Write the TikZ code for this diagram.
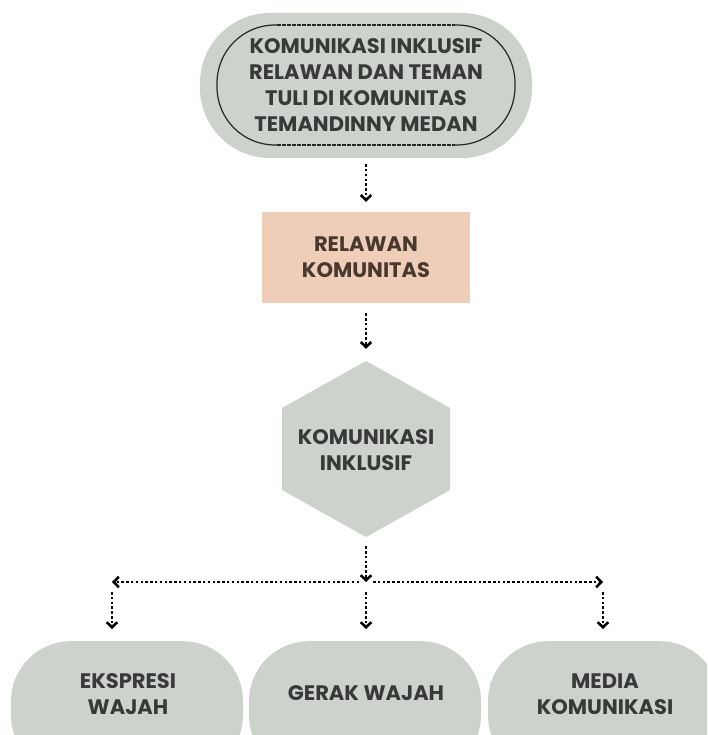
\documentclass[tikz,border=0pt]{standalone}
\usepackage{fontspec}
\setmainfont{Poppins}
\usetikzlibrary{arrows.meta}
\definecolor{sage}{RGB}{205,211,204}
\definecolor{peach}{RGB}{238,206,184}
\definecolor{ink}{RGB}{55,58,55}
\definecolor{brownink}{RGB}{72,56,45}
\begin{document}
\begin{tikzpicture}[x=1pt,y=-1pt,
  lbl/.style={font=\bfseries\fontsize{21}{26}\selectfont, text=ink, align=center, inner sep=0pt},
  conn/.style={line width=2.7pt, dash pattern=on 2.5pt off 2.3pt, -{Straight Barb[length=5pt,width=10.5pt,line width=2.6pt]}},
  bot/.style={fill=sage, rounded corners=60pt, minimum width=232pt, minimum height=134pt, inner sep=0pt, anchor=north},
  outline/.style={line width=1.2pt, draw=black!85},
]
\useasboundingbox (0,0) rectangle (707,735);
\clip (0,0) rectangle (707,735);
\fill[white] (0,0) rectangle (707,735);
% top rounded box
\node[fill=sage, rounded corners=70pt, minimum width=332pt, minimum height=145pt, lbl] (top) at (366,85.5)
  {KOMUNIKASI INKLUSIF\\RELAWAN DAN TEMAN\\TULI DI KOMUNITAS\\TEMANDINNY MEDAN};
\draw[outline, rounded corners=58pt] (277,25) -- (217,25) -- (217,145) -- (277,145);
\draw[outline, rounded corners=58pt] (455,25) -- (515,25) -- (515,145) -- (455,145);
\draw[outline, dash pattern=on 3.5pt off 1.5pt] (277,25) -- (455,25);
\draw[outline, dash pattern=on 3.5pt off 1.5pt] (277,145) -- (455,145);
% relawan box
\node[fill=peach, minimum width=208pt, minimum height=91pt, lbl, text=brownink] (rel) at (366,257.5) {RELAWAN\\KOMUNITAS};
% hexagon
\fill[sage] (366,361) -- (450,408) -- (450,490) -- (366,537) -- (282,490) -- (282,408) -- cycle;
\node[lbl, minimum width=168pt, minimum height=176pt] (hex) at (366,450) {KOMUNIKASI\\INKLUSIF};
% bottom shapes
\node[bot] (b1) at (127,641) {};
\node[bot] (b2) at (365,641) {};
\node[bot] (b3) at (604,641) {};
\node[lbl] (t1) at (128,694) {EKSPRESI\\WAJAH};
\node[lbl] (t2) at (366,693) {GERAK WAJAH};
\node[lbl] (t3) at (605,694) {MEDIA\\KOMUNIKASI};
% connectors
\coordinate (J) at (366,582);
\coordinate (L) at (112,582);
\coordinate (R) at (603,582);
\draw[conn, shorten <=6pt, shorten >=10pt] (top) -- (rel);
\draw[conn, shorten <=10pt, shorten >=13pt] (rel) -- (hex);
\draw[conn, shorten <=8pt] (hex) -- (J);
\draw[conn, shorten <=7pt] (J) -- (L);
\draw[conn, shorten <=7pt] (J) -- (R);
\draw[conn, shorten <=10pt, shorten >=12pt] (L) -- (L |- b1.north);
\draw[conn, shorten <=10pt, shorten >=12pt] (J) -- (J |- b2.north);
\draw[conn, shorten <=10pt, shorten >=12pt] (R) -- (R |- b3.north);
\end{tikzpicture}
\end{document}
